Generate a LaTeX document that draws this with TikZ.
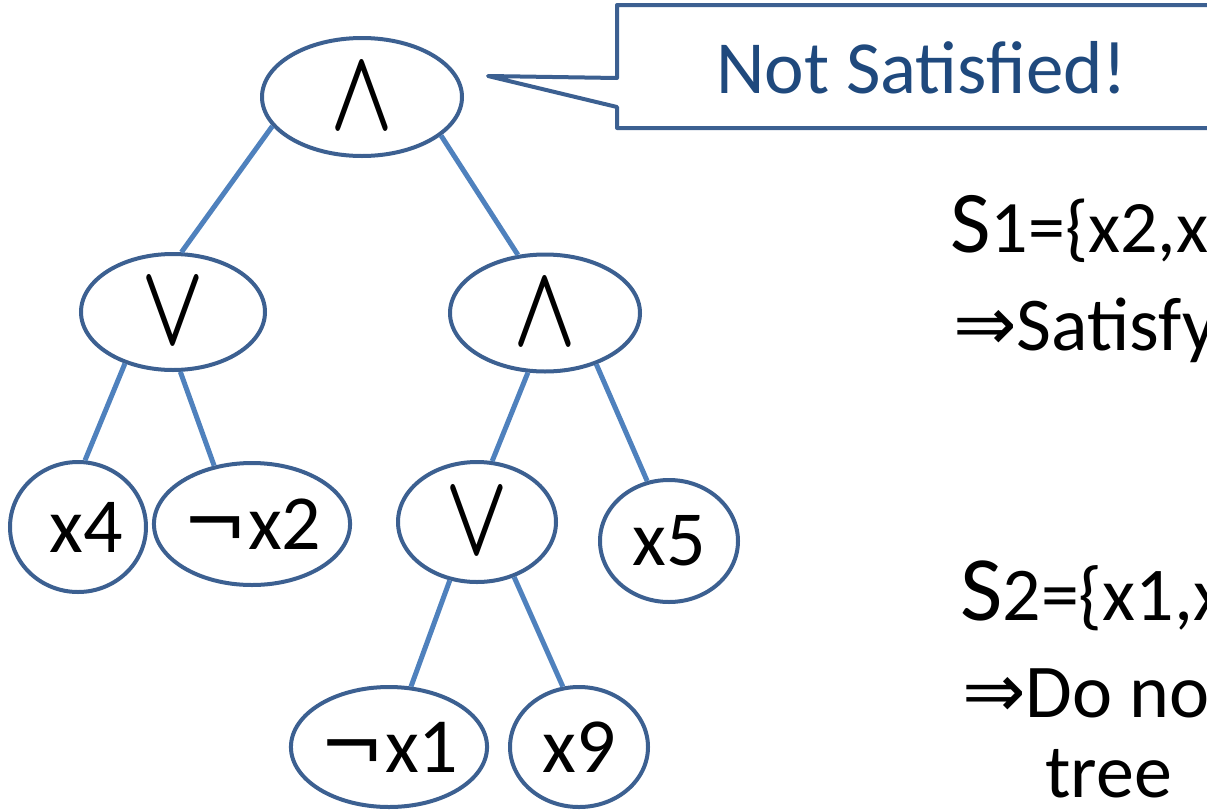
\documentclass[tikz,border=0pt]{standalone}
\usepackage{graphicx}
\usepackage{fontspec}
\setmainfont{Carlito}
\newfontfamily\djv{DejaVu Sans}
\usetikzlibrary{shapes.geometric}
\definecolor{nodeline}{RGB}{60,96,145}
\definecolor{edgeblue}{RGB}{79,129,189}
\definecolor{calltext}{RGB}{31,73,125}
\newcommand{\fs}[1]{\fontsize{#1}{#1}\selectfont}
\newcommand{\bigand}{\scalebox{8.2}[11.6]{\boldmath$\wedge$}}
\newcommand{\bigor}{\scalebox{8.2}[11.6]{\boldmath$\vee$}}
\newcommand{\myneg}{{\djv ¬}}
\tikzset{
  tnode/.style={ellipse, draw=nodeline, line width=4pt, fill=white, inner sep=0pt, text=black},
  edge/.style={draw=edgeblue, line width=5pt},
  callout/.style={draw=nodeline, line width=4pt, fill=white, line join=round},
  lit/.style={font=\fs{78}},
  side/.style={anchor=base west, inner sep=0pt, text=black}
}
\begin{document}
\begin{tikzpicture}[x=1pt,y=-1pt]
\useasboundingbox (0,0) rectangle (1207,809);
% tree nodes
\node[tnode, minimum width=200pt, minimum height=118pt] (root) at (362,97) {\bigand};
\node[tnode, minimum width=184pt, minimum height=116pt] (l) at (173,312) {\bigor};
\node[tnode, minimum width=190pt, minimum height=117pt] (r) at (545,313) {\bigand};
\node[tnode, minimum width=136pt, minimum height=130pt, lit] (x4) at (78,527) {\hspace{16pt}x4};
\node[tnode, minimum width=184pt, minimum height=122pt, lit] (nx2) at (252,524) {\myneg x2};
\node[tnode, minimum width=158pt, minimum height=120pt] (m) at (477,522) {\bigor};
\node[tnode, minimum width=138pt, minimum height=122pt, lit] (x5) at (669,541) {x5};
\node[tnode, minimum width=184pt, minimum height=120pt, lit] (nx1) at (389,747) {\myneg x1};
\node[tnode, minimum width=138pt, minimum height=120pt, lit] (x9) at (579,747) {x9};
% edges
\draw[edge] (root.198) -- (l.82);
\draw[edge] (root.334) -- (r.115);
\draw[edge] (l.227) -- (x4.84);
\draw[edge] (l.277) -- (nx2.123);
\draw[edge] (r.254) -- (m.76);
\draw[edge] (r.315) -- (x5.110);
\draw[edge] (m.245) -- (nx1.70);
\draw[edge] (m.304) -- (x9.105);
% callout
\coordinate (tip) at (488,76);
\draw[callout] (617,5) -- (1240,5) -- (1240,128) -- (617,128) -- (617,107) -- (tip) -- (617,78) -- cycle;
\node[anchor=base west, inner sep=0pt, text=calltext, font=\fs{75}] (msg) at (716,93) {Not Satisfied!};
% side texts
\node[side] (s1) at (950,252) {\fs{88}S\fs{74}1=\{x2,x};
\node[side] (s1b) at (953,350) {\fs{76}{\djv ⇒}Satisfy};
\node[side] (s2) at (960,620) {\fs{92}S\fs{76}2=\{x1,x};
\node[side] (s2b) at (962,717) {\fs{76}{\djv ⇒}Do no};
\node[side] (s2c) at (1045,797) {\fs{76}tree};
\end{tikzpicture}
\end{document}
